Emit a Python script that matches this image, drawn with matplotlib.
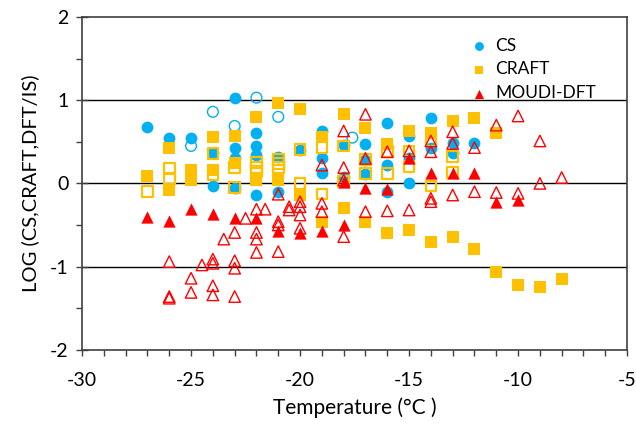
import matplotlib
matplotlib.use("Agg")
import matplotlib.pyplot as plt
from matplotlib.ticker import MultipleLocator

plt.rcParams['font.family'] = ['Lato', 'DejaVu Sans']
plt.rcParams['axes.unicode_minus'] = False

# CS (filled = main, open = second set)
cs_t = [-27, -26, -25, -24, -24, -23, -23, -23, -23, -22, -22, -22, -22, -21, -21,
        -20, -19, -19, -19, -18, -18, -17, -17, -17, -16, -16, -16, -15, -15, -15,
        -14, -14, -13, -13, -12]
cs_v = [0.68, 0.55, 0.55, 0.36, -0.03, 1.03, 0.43, 0.30, -0.06, 0.61, 0.45, 0.34, -0.14, 0.32, -0.10,
        0.40, 0.63, 0.31, 0.12, 0.46, 0.08, 0.47, 0.28, 0.11, 0.73, 0.22, -0.10, 0.57, 0.30, 0.0,
        0.78, 0.42, 0.48, 0.37, 0.48]
cs_open_t = [-25, -24, -23, -22, -21, -17.6]
cs_open_v = [0.45, 0.86, 0.69, 1.03, 0.80, 0.55]

# CRAFT
craft_t = [-27, -26, -26, -25, -25, -25, -24, -24, -23, -23, -22, -22, -21, -21, -20, -20,
           -19, -19, -18, -18, -17, -17, -16, -16, -15, -15, -14, -14, -13, -13, -12, -12,
           -11, -11, -10, -9, -8]
craft_v = [0.09, 0.42, -0.08, 0.16, 0.10, 0.04, 0.56, 0.16, 0.57, 0.25, 0.80, 0.04, 0.96, 0.04, 0.89, -0.14,
           0.56, -0.46, 0.83, -0.29, 0.67, -0.46, 0.47, -0.60, 0.63, -0.56, 0.61, -0.71, 0.75, -0.65, 0.79, -0.79,
           0.60, -1.07, -1.22, -1.25, -1.15]
craft_open_t = [-27, -26, -26, -24, -24, -23, -23, -22, -22, -22, -21, -21, -21, -20, -20,
                -19, -19, -18, -18, -17, -17, -16, -16, -15, -15, -14, -14, -13, -13]
craft_open_v = [-0.10, 0.18, 0.06, 0.36, 0.10, 0.19, -0.05, 0.25, 0.19, 0.14, 0.29, 0.24, 0.19, 0.41, 0.0,
                0.43, -0.13, 0.45, 0.02, 0.29, 0.12, 0.38, 0.12, 0.39, 0.20, 0.51, -0.03, 0.32, 0.13]

# MOUDI-DFT
dft_t = [-27, -26, -25, -24, -23, -22, -21, -20, -19, -18, -18, -17, -16, -15, -14, -13, -12, -11, -10]
dft_v = [-0.41, -0.45, -0.31, -0.37, -0.42, -0.42, -0.57, -0.60, -0.57, -0.50, 0.02, -0.06, -0.07, 0.30,
         0.12, 0.13, 0.13, -0.22, -0.20]
dft_open_t = [-22.5, -22, -21.6, -23.5, -23, -22, -22, -22, -26, -24.5, -24, -24, -23, -23, -25,
              -26, -26, -25, -24, -24, -23,
              -20.5, -20.5, -20, -20, -20, -19, -19, -17, -16, -15, -14, -21, -21, -20, -18, -21, -21,
              -17, -18, -19, -18, -18, -17, -16, -15, -14, -14, -14, -13, -13, -12, -11, -10, -9, -9, -8,
              -13, -12, -11, -10]
dft_open_v = [-0.42, -0.31, -0.31, -0.67, -0.59, -0.59, -0.67, -0.83, -0.94, -0.98, -0.91, -0.96, -0.93, -1.02, -1.14,
              -1.36, -1.38, -1.31, -1.23, -1.34, -1.36,
              -0.28, -0.32, -0.22, -0.28, -0.38, -0.24, -0.34, -0.34, -0.33, -0.32, -0.22, -0.46, -0.50, -0.54, -0.64, -0.82, -0.13,
              0.83, 0.63, 0.22, 0.19, 0.04, 0.30, 0.38, 0.39, 0.51, 0.38, -0.18, 0.62, 0.48, 0.43, 0.70, 0.81, 0.51, 0.0, 0.07,
              -0.14, -0.10, -0.11, -0.12]

BLUE = '#00B0F0'
ORANGE = '#FFC000'
RED = '#FF0000'

fig = plt.figure(figsize=(6.36, 4.24), dpi=100)
ax = fig.add_axes([0.129, 0.175, 0.857, 0.785])

for y in [-1, 0, 1]:
    ax.axhline(y, color='black', lw=1.0, zorder=1)

ax.scatter(cs_t, cs_v, s=72, marker='o', color=BLUE, lw=0, zorder=3, label='CS')
ax.scatter(cs_open_t, cs_open_v, s=60, marker='o', facecolor='none', edgecolor=BLUE, lw=1.0, zorder=3)
ax.scatter(craft_t, craft_v, s=64, marker='s', color=ORANGE, lw=0, zorder=3, label='CRAFT')
ax.scatter(craft_open_t, craft_open_v, s=58, marker='s', facecolor='none', edgecolor=ORANGE, lw=1.6, zorder=3)
ax.scatter(dft_t, dft_v, s=78, marker='^', color=RED, lw=0, zorder=4, label='MOUDI-DFT')
ax.scatter(dft_open_t, dft_open_v, s=68, marker='^', facecolor='none', edgecolor=RED, lw=1.0, zorder=4)

ax.set_xlim(-30, -5)
ax.set_ylim(-2, 2)
ax.xaxis.set_major_locator(MultipleLocator(5))
ax.xaxis.set_minor_locator(MultipleLocator(1))
ax.yaxis.set_major_locator(MultipleLocator(1))
ax.yaxis.set_minor_locator(MultipleLocator(0.5))
ax.tick_params(axis='x', which='both', direction='out', length=4, width=1, labelsize=14, pad=12,
               colors='#404040', labelcolor='black')
ax.tick_params(axis='y', which='major', direction='inout', length=9, width=1, labelsize=14, pad=5,
               colors='#404040', labelcolor='black')
ax.tick_params(axis='y', which='minor', direction='out', length=4, width=1, colors='#404040')
for sp in ax.spines.values():
    sp.set_color('#404040')
    sp.set_linewidth(1.2)

ax.set_xlabel('Temperature (°C )', fontsize=15, labelpad=6)
ax.set_ylabel('LOG (CS,CRAFT,DFT/IS)', fontsize=14.5, labelpad=8)

ax.legend(loc='upper left', bbox_to_anchor=(0.68, 0.985), frameon=False, fontsize=12.5,
          handletextpad=0.35, labelspacing=0.45, markerscale=0.75, handlelength=1.2)

fig.savefig('out.png', dpi=100)
